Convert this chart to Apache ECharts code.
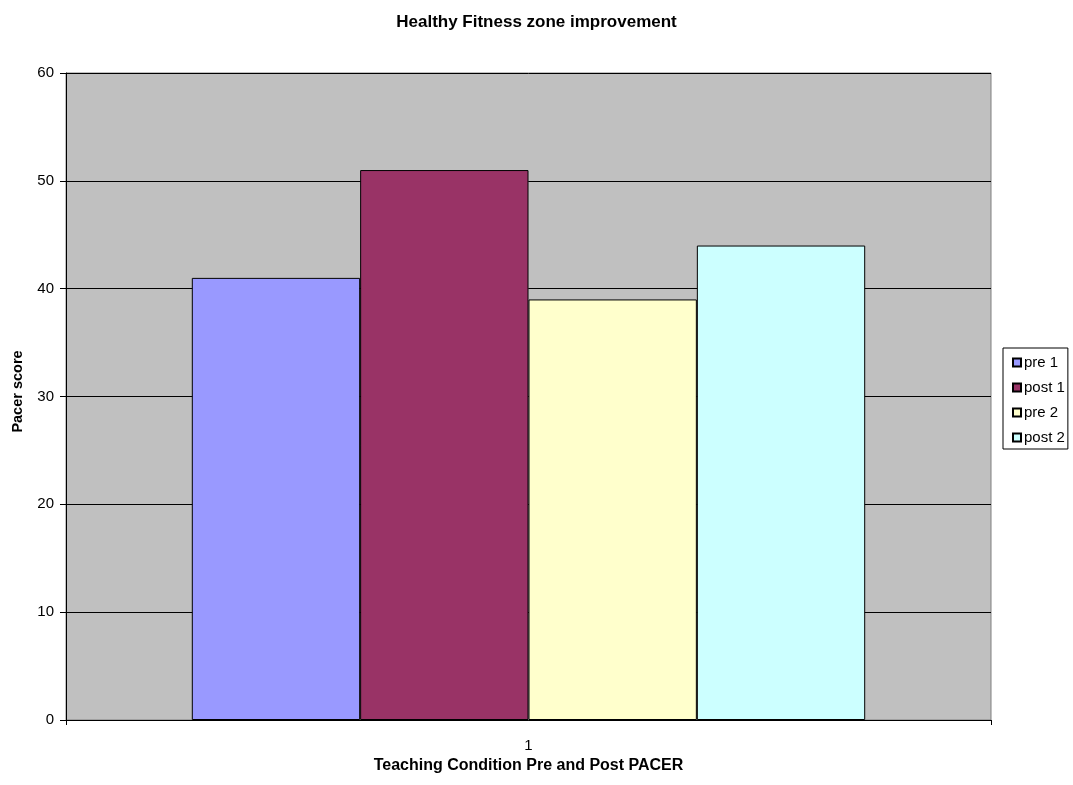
<!DOCTYPE html>
<html>
<head>
<meta charset="utf-8">
<script src="https://cdn.jsdelivr.net/npm/echarts@6/dist/echarts.min.js"></script>
<style>
  html, body { margin: 0; padding: 0; background: #fff; }
  #chart { width: 1073px; height: 785px; }
</style>
</head>
<body>
<div id="chart"></div>
<script>
// Pacer scores by teaching condition, pre and post test
const categories = ['1'];
const seriesNames = ['pre 1', 'post 1', 'pre 2', 'post 2'];
const pre1 = [41];
const post1 = [51];
const pre2 = [39];
const post2 = [44];
const seriesColors = ['#9999FF', '#993366', '#FFFFCC', '#CCFFFF'];

const FONT = 'Liberation Sans, Arial, sans-serif';
const values = [pre1, post1, pre2, post2];

const chart = echarts.init(document.getElementById('chart'), null, { renderer: 'canvas' });

chart.setOption({
  animation: false,
  backgroundColor: '#ffffff',
  title: {
    text: 'Healthy Fitness zone improvement',
    left: 'center',
    top: 9,
    textStyle: { fontFamily: FONT, fontSize: 17, fontWeight: 'bold', color: '#000' }
  },
  legend: {
    orient: 'vertical',
    left: 1003,
    top: 348,
    padding: [7, 3, 4, 9],
    itemGap: 10,
    itemWidth: 8,
    itemHeight: 8,
    borderColor: '#000',
    borderWidth: 1,
    backgroundColor: '#fff',
    icon: 'rect',
    textStyle: { fontFamily: FONT, fontSize: 15, lineHeight: 15, color: '#000', padding: [0, 0, 0, -2] },
    data: seriesNames
  },
  grid: {
    left: 66,
    right: 82,
    top: 73,
    bottom: 65,
    show: true,
    backgroundColor: '#C0C0C0',
    borderColor: '#808080',
    borderWidth: 1
  },
  xAxis: {
    type: 'category',
    data: categories,
    name: 'Teaching Condition Pre and Post PACER',
    nameLocation: 'middle',
    nameGap: 38,
    nameTextStyle: { fontFamily: FONT, fontSize: 16, fontWeight: 'bold', color: '#000' },
    axisLine: { show: true, lineStyle: { color: '#000', width: 1 } },
    axisTick: { show: true, alignWithLabel: false, length: 5, lineStyle: { color: '#000' } },
    axisLabel: { fontFamily: FONT, fontSize: 15, color: '#000', margin: 18 }
  },
  yAxis: {
    type: 'value',
    min: 0,
    max: 60,
    interval: 10,
    name: 'Pacer score',
    nameLocation: 'middle',
    nameGap: 41,
    nameTextStyle: { fontFamily: FONT, fontSize: 14.5, fontWeight: 'bold', color: '#000', padding: [0, 0, 0, 10] },
    axisLine: { show: true, lineStyle: { color: '#000', width: 1 } },
    axisTick: { show: true, length: 6, lineStyle: { color: '#000' } },
    axisLabel: { fontFamily: FONT, fontSize: 15, color: '#000', margin: 12 },
    splitLine: { show: true, lineStyle: { color: '#000', width: 1 } }
  },
  series: seriesNames.map((name, i) => ({
    name: name,
    type: 'bar',
    data: values[i],
    barGap: '0%',
    barCategoryGap: '27.2%',
    itemStyle: { color: seriesColors[i], borderColor: '#000', borderWidth: 1 }
  }))
});
</script>
</body>
</html>
